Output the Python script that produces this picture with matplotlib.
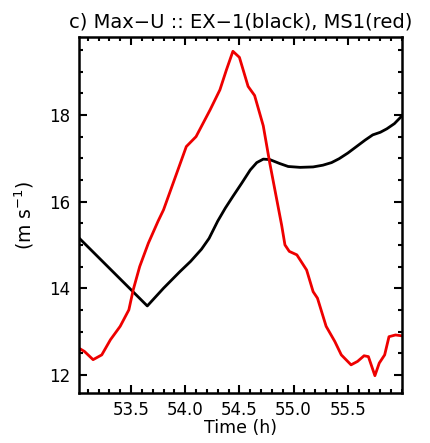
import matplotlib
matplotlib.use("Agg")
import matplotlib.pyplot as plt
from matplotlib.ticker import MultipleLocator

# EX-1 (black)
t_black = [53.02, 53.65, 53.80, 53.95, 54.05, 54.15, 54.22, 54.30, 54.37, 54.44, 54.52, 54.60, 54.66,
           54.72, 54.78, 54.87, 54.95, 55.06, 55.18, 55.27, 55.35, 55.42, 55.50, 55.58, 55.66,
           55.73, 55.80, 55.86, 55.93, 56.0]
u_black = [15.16, 13.59, 14.00, 14.38, 14.62, 14.90, 15.15, 15.55, 15.85, 16.12, 16.42, 16.73, 16.90,
           16.98, 16.97, 16.88, 16.81, 16.79, 16.80, 16.84, 16.90, 16.99, 17.12, 17.27, 17.42,
           17.54, 17.60, 17.68, 17.80, 17.98]

# MS1 (red)
t_red = [53.02, 53.03, 53.07, 53.15, 53.23, 53.31, 53.40, 53.48, 53.52, 53.58, 53.66, 53.75, 53.80,
         54.01, 54.10, 54.23, 54.32, 54.38, 54.44, 54.50, 54.58, 54.64, 54.72, 54.78, 54.89,
         54.92, 54.96, 55.03, 55.12, 55.18, 55.22, 55.30, 55.38, 55.44, 55.53, 55.59, 55.65,
         55.69, 55.75, 55.79, 55.84, 55.88, 55.94, 56.0]
u_red = [12.54, 12.6, 12.54, 12.35, 12.46, 12.81, 13.12, 13.5, 13.96, 14.5, 15.04, 15.55, 15.81,
         17.27, 17.50, 18.12, 18.58, 19.04, 19.47, 19.33, 18.66, 18.45, 17.75, 16.89, 15.45,
         15.0, 14.85, 14.77, 14.42, 13.92, 13.77, 13.12, 12.77, 12.46, 12.23, 12.31, 12.44,
         12.42, 11.98, 12.27, 12.46, 12.88, 12.92, 12.9]

xticks = [53.5, 54.0, 54.5, 55.0, 55.5]
yticks = [12, 14, 16, 18]

fig = plt.figure(figsize=(4.30, 4.43), dpi=100)
ax = fig.add_axes([79/430, 1 - 393/443, (402-79)/430, (393-37)/443])

ax.plot(t_black, u_black, color='black', lw=2.0, solid_joinstyle='round')
ax.plot(t_red, u_red, color='#ee0000', lw=2.0, solid_joinstyle='round')

ax.set_xlim(53.02, 56.0)
ax.set_ylim(11.58, 19.8)
ax.set_xticks(xticks)
ax.set_xticklabels([f"{v:.1f}" for v in xticks])
ax.set_yticks(yticks)
ax.set_yticklabels([str(v) for v in yticks])
ax.xaxis.set_minor_locator(MultipleLocator(0.1))
ax.yaxis.set_minor_locator(MultipleLocator(0.5))
ax.tick_params(which='both', direction='in', top=True, right=True, width=1.5, labelsize=12)
ax.tick_params(which='major', length=6, pad=6)
ax.tick_params(which='minor', length=3)
for s in ax.spines.values():
    s.set_linewidth(1.8)

ax.set_title("c) Max\u2212U :: EX\u22121(black), MS1(red)", fontsize=14, pad=7)
ax.set_xlabel("Time (h)", fontsize=12.5, labelpad=0)
ax.set_ylabel("(m s$^{-1}$)", fontsize=13.5, labelpad=10)

fig.savefig("out.png", dpi=100)
